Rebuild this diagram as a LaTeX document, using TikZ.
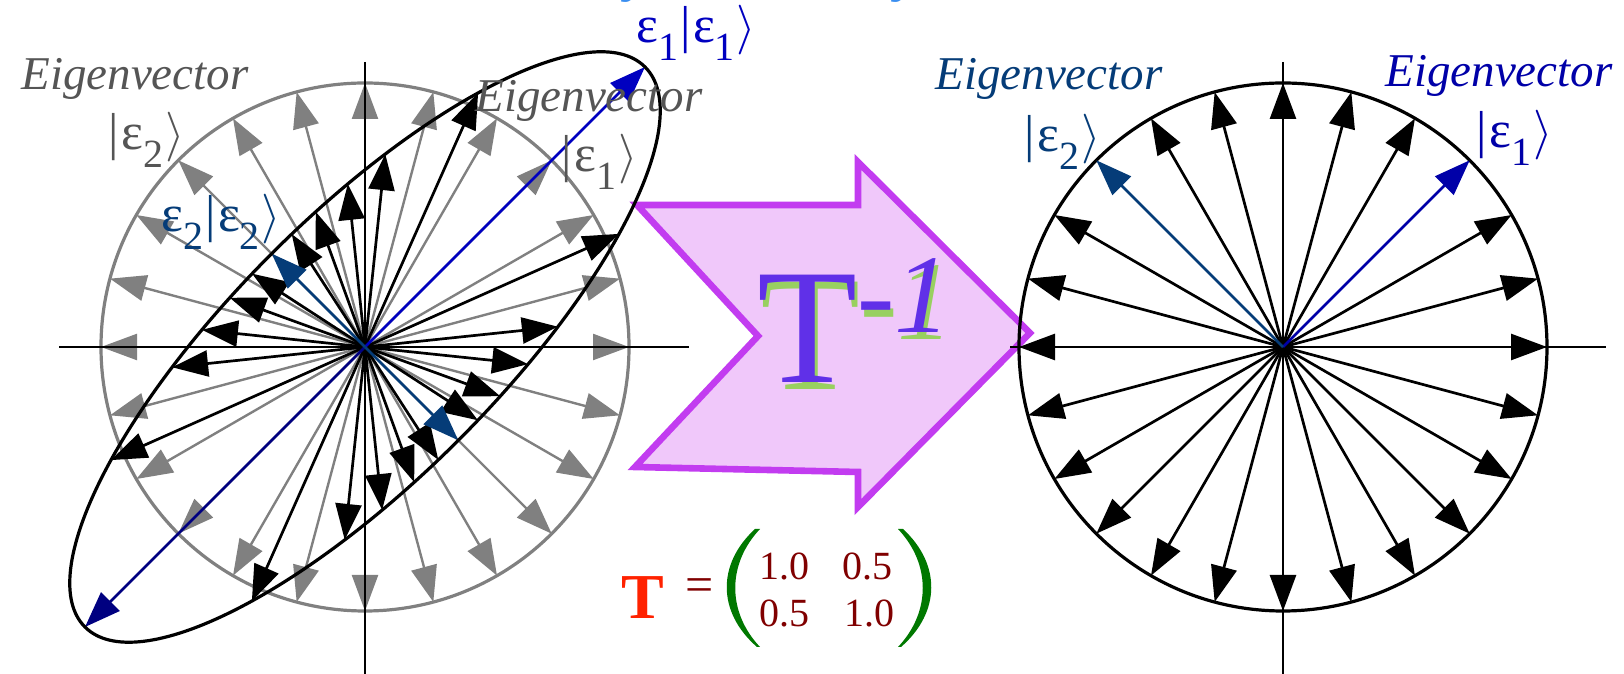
\documentclass[tikz,border=0pt]{standalone}
\usepackage{fontspec}
\setmainfont{Liberation Serif}
\usetikzlibrary{arrows.meta}
\definecolor{grayA}{HTML}{808080}
\definecolor{grayT}{HTML}{555555}
\definecolor{eblue}{HTML}{0000C0}
\definecolor{enavy}{HTML}{000080}
\definecolor{edark}{HTML}{053C78}
\definecolor{rblue}{HTML}{0000A8}
\definecolor{apurple}{HTML}{C23CF0}
\definecolor{afill}{HTML}{F0C8FA}
\definecolor{tpurple}{HTML}{6030E8}
\definecolor{tgreen}{HTML}{98D060}
\definecolor{mred}{HTML}{FF2200}
\definecolor{mdark}{HTML}{800000}
\definecolor{mgreen}{HTML}{007800}
\definecolor{ltblue}{HTML}{3A8EF0}
\newcommand\mysub[1]{\raisebox{-9pt}{\fontsize{20}{20}\selectfont #1}}
\newcommand\myket[1]{|\kern1.2ptε\mysub{#1}\kern1pt$\rangle$}
\newcommand\bigT{{\fontsize{82}{82}\selectfont T\raisebox{25pt}{\fontsize{56}{56}\selectfont -\textit{1}}}}
\tikzset{
  lbl/.style={font=\fontsize{26}{28}\selectfont, inner sep=0pt, anchor=base west},
  elbl/.style={lbl, font=\fontsize{23.5}{28}\selectfont\itshape},
  arr/.style={-{Triangle[length=18pt,width=13pt]}, line width=1.35pt},
  garr/.style={arr, grayA, line width=1.2pt},
  carr/.style={arr, line width=1.3pt},
  axis/.style={line width=1.4pt},
  num/.style={mdark, font=\fontsize{20}{20}\selectfont, inner sep=0pt, anchor=base west}
}
\begin{document}
\begin{tikzpicture}[x=0.5pt,y=0.5pt]
\useasboundingbox (0,0) rectangle (1624,674);
% cut-off title fragments
\node[ltblue, font=\fontsize{30}{30}\selectfont\itshape, inner sep=0pt, anchor=base west] (tf1) at (626,684) {y};
\node[ltblue, font=\fontsize{30}{30}\selectfont\itshape, inner sep=0pt, anchor=base west] (tf2) at (896,684) {y};
% big transformation arrow
\draw[apurple, fill=afill, line width=3.3pt] (637,469) -- (858,469) -- (858,512) -- (1030,341) -- (858,167) -- (858,202) -- (635,207) -- (758,338) -- cycle;
\node[tgreen, inner sep=0pt, anchor=base west] (tinvs) at (760,284) {\bigT};
\node[tpurple, inner sep=0pt, anchor=base west] (tinv) at (757,291) {\bigT};
% ---------- left figure ----------
\coordinate (L) at (365,327);
\draw[grayA, line width=1.6pt] (L) circle[radius=132pt];
\foreach \a in {0,15,...,345}
  \draw[garr] (L) -- ++({264*cos(\a)},{264*sin(\a)});
\draw[axis] (59,327) -- (689,327);
\draw[axis] (365,612) -- (365,0);
\foreach \a in {6,24,66,84,96,110,123,147,160,174,186,204,246,264,276,290,303,327,340,354}{
  \pgfmathsetmacro\rr{264/sqrt(cos(\a-45)^2/2.25+sin(\a-45)^2/0.25)}
  \draw[arr] (L) -- ++({\rr*cos(\a)},{\rr*sin(\a)});
}
\draw[carr, eblue] (L) -- ++(280,280);
\draw[carr, enavy] (L) -- ++(-280,-280);
\draw[carr, edark] (L) -- ++(-93.3,93.3);
\draw[carr, edark] (L) -- ++(93.3,-93.3);
\draw[line width=1.6pt, rotate around={45:(L)}] (L) ellipse[x radius=198pt, y radius=66pt];
% left labels
\node[elbl, grayT] (ev1) at (21,584) {Eigenvector};
\node[lbl, grayT] (k2l) at (108,524) {\myket{2}};
\node[elbl, grayT] (ev2) at (475,562) {Eigenvector};
\node[lbl, grayT] (k1l) at (561,502) {\myket{1}};
\node[lbl, eblue] (e1k) at (636,631) {ε\mysub{1}\kern1pt\myket{1}};
\node[lbl, edark] (e2k) at (161,442) {ε\mysub{2}\kern1pt\myket{2}};
% ---------- right figure ----------
\coordinate (R) at (1283,327);
\draw[axis] (1010,327) -- (1606,327);
\draw[axis] (1283,612) -- (1283,0);
\draw[line width=1.6pt] (R) circle[radius=132pt];
\foreach \a in {0,15,30,60,75,90,105,120,150,165,180,195,210,225,240,255,270,285,300,315,330,345}
  \draw[arr] (R) -- ++({264*cos(\a)},{264*sin(\a)});
\draw[carr, rblue] (R) -- ++(186.7,186.7);
\draw[carr, edark] (R) -- ++(-186.7,186.7);
\node[elbl, edark] (ev3) at (935,584) {Eigenvector};
\node[lbl, edark] (k2r) at (1024,522) {\myket{2}};
\node[elbl, rblue] (ev4) at (1385,587) {Eigenvector};
\node[lbl, rblue] (k1r) at (1476,526) {\myket{1}};
% ---------- matrix ----------
\node[mred, font=\fontsize{32}{32}\selectfont\bfseries, inner sep=0pt, anchor=base west] (tm) at (621,55) {T};
\node[mdark, font=\fontsize{25}{25}\selectfont, inner sep=0pt] (eq) at (699.5,84) {=};
\node[num] (m11) at (759,94) {1.0};
\node[num] (m12) at (842,94) {0.5};
\node[num] (m21) at (759,47) {0.5};
\node[num] (m22) at (844,47) {1.0};
\fill[mgreen] (755,145) .. controls (717,110) and (717,62) .. (757,27) -- (760,27) .. controls (727,62) and (727,110) .. (760,145) -- cycle;
\fill[mgreen] (903,145) .. controls (941,110) and (941,62) .. (901,27) -- (898,27) .. controls (931,62) and (931,110) .. (898,145) -- cycle;
\end{tikzpicture}
\end{document}
